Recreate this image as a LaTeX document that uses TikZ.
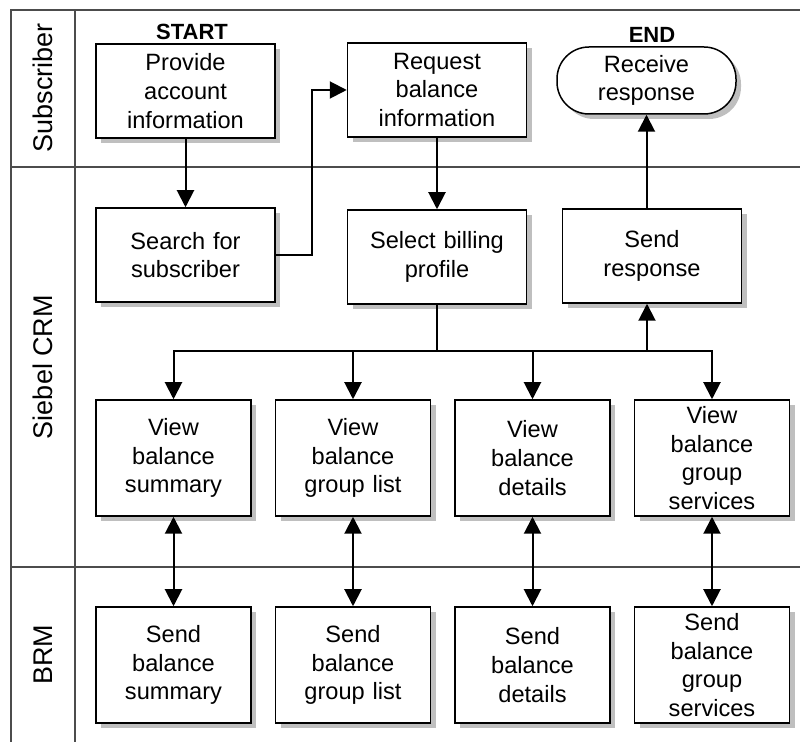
\documentclass[tikz,border=0pt]{standalone}
\usepackage{fontspec}
\setmainfont{Liberation Sans}
\usetikzlibrary{arrows.meta,shadows}
\tikzstyle{boite} = [rectangle, draw=black, line width=0.75pt, fill=white, inner sep=2pt, minimum height=47pt, minimum width=89.5pt, text width=85pt, text centered, drop shadow={shadow xshift=2.5pt, shadow yshift=-2.5pt}, font=\fontsize{11.8pt}{14.3pt}\selectfont]
\tikzstyle{petite} = [boite, minimum height=58pt, minimum width=77.5pt, text width=73.5pt]
\tikzstyle{terminal} = [boite, rounded corners=16pt, minimum height=33.5pt]
\tikzstyle{couloir} = [draw=black!70, line width=0.6pt]
\tikzstyle{titre} = [rotate=90, font=\fontsize{13.5pt}{16pt}\selectfont]
\tikzstyle{etiquette} = [font=\bfseries\fontsize{11pt}{13pt}\selectfont]
\tikzstyle{fleche} = [-{Triangle[width=8.5pt,length=8.5pt]}, line width=1pt]
\tikzstyle{fleches} = [{Triangle[width=8.5pt,length=8.5pt]}-{Triangle[width=8.5pt,length=8.5pt]}, line width=1pt]

\begin{document}
\begin{tikzpicture}[x=0.5pt, y=-0.5pt]

        \useasboundingbox (0,0) rectangle (800,742);

        \draw[couloir] (800,10) -- (11,10) -- (11,742);
        \draw[couloir] (75,10) -- (75,742);
        \draw[couloir] (11,167) -- (800,167);
        \draw[couloir] (11,567) -- (800,567);

        \node (sub) [titre] at (43,88) {Subscriber};
        \node (crm) [titre] at (43,367) {Siebel CRM};
        \node (brm) [titre] at (43,655) {BRM};

        \node (start) [etiquette] at (192,32) {START};
        \node (end) [etiquette] at (652,35) {END};

        \node (provide) [boite] at (185.5,91) {Provide\\account\\information};
        \node (request) [boite] at (437,90) {Request\\balance\\information};
        \node (receive) [terminal] at (646.5,80.5) {Receive\\response};

        \node (search) [boite] at (185.5,255) {Search for\\subscriber};
        \node (select) [boite] at (437,257) {Select billing\\profile};
        \node (send) [boite] at (652,256) {Send\\response};

        \node (v1) [petite] at (173.5,458) {View\\balance\\summary};
        \node (v2) [petite] at (353,458) {View\\balance\\group list};
        \node (v3) [petite] at (532.5,458) {View\\balance\\details};
        \node (v4) [petite] at (712,458) {View\\balance\\group\\services};

        \node (s1) [petite] at (173.5,665) {Send\\balance\\summary};
        \node (s2) [petite] at (353,665) {Send\\balance\\group list};
        \node (s3) [petite] at (532.5,665) {Send\\balance\\details};
        \node (s4) [petite] at (712,665) {Send\\balance\\group\\services};

        \coordinate (j) at (437,351);
        \coordinate (k) at (647,351);

        \draw[fleche] (provide) -- (search);
        \draw[fleche] (search.east) -- ++(36,0) |- (request.west);
        \draw[fleche] (request) -- (select);
        \draw[fleche] (send.north -| receive.south) -- (receive.south);

        \draw[line width=1pt] (select.south) -- (j);
        \draw[fleche] (j) -| (v1.north);
        \draw[fleche] (j) -| (v2.north);
        \draw[fleche] (j) -| (v3.north);
        \draw[fleche] (j) -| (v4.north);
        \draw[fleche] (k) -- (k |- send.south);

        \draw[fleches] (v1) -- (s1);
        \draw[fleches] (v2) -- (s2);
        \draw[fleches] (v3) -- (s3);
        \draw[fleches] (v4) -- (s4);

    \end{tikzpicture}
\end{document}
